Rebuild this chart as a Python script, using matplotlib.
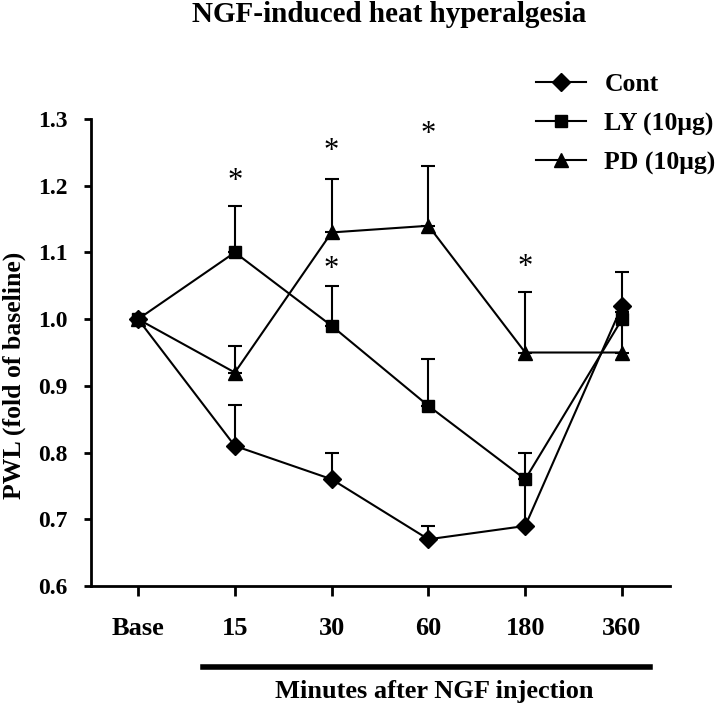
"""
NGF-induced heat hyperalgesia: PWL time course for three treatment groups.
Writes out.png
"""
import numpy as np
import matplotlib
matplotlib.use("Agg")
import matplotlib.pyplot as plt
import matplotlib.transforms as mtransforms
from matplotlib.lines import Line2D

plt.rcParams["font.family"] = ["Liberation Serif", "DejaVu Serif"]

# ── Data ──
time_labels = ["Base", "15", "30", "60", "180", "360"]

cont = [1.00, 0.81, 0.76, 0.67, 0.69, 1.02]
cont_err = [0.0, 0.062, 0.04, 0.02, 0.07, 0.05]

ly = [1.00, 1.10, 0.99, 0.87, 0.76, 1.00]
ly_err = [0.0, 0.07, 0.06, 0.07, 0.04, 0.01]

pd_ = [1.00, 0.92, 1.13, 1.14, 0.95, 0.95]
pd_err = [0.0, 0.04, 0.08, 0.09, 0.09, 0.06]

# significance marks: (time index, height)
star_idx = [1, 2, 2, 3, 4]
star_y = [1.206, 1.251, 1.075, 1.277, 1.078]

# ── Plot ──
fig = plt.figure(figsize=(7.2, 7.06), dpi=100)
ax = fig.add_axes([0.1264, 0.170, 0.8042, 0.6614])

x = np.arange(len(time_labels))
series = [
    (cont, cont_err, "D", "Cont", 9),
    (ly, ly_err, "s", "LY (10\u03bcg)", 9),
    (pd_, pd_err, "^", "PD (10\u03bcg)", 10),
]
handles = []
for vals, err, mk, lab, ms in series:
    vals = np.array(vals)
    err = np.array(err)
    ax.errorbar(x, vals, yerr=[np.zeros_like(err), err], fmt="none",
                ecolor="black", elinewidth=1.5, capsize=4.8, capthick=1.5, zorder=2)
    ax.plot(x, vals, marker=mk, color="black", markersize=ms,
            linewidth=1.5, zorder=3)
    handles.append(Line2D([], [], color="black", marker=mk, markersize=ms,
                          linewidth=1.5, label=lab))

for i, yv in zip(star_idx, star_y):
    ax.text(x[i], yv, "*", ha="center", va="center", fontsize=22)

ax.set_xlim(-0.486, 5.496)
ax.set_ylim(0.6, 1.3)
ax.set_xticks(x)
ax.set_xticklabels(time_labels)
ax.set_yticks(np.arange(0.6, 1.31, 0.1))
ax.set_yticklabels([f"{v:.1f}" for v in np.arange(0.6, 1.31, 0.1)])
for lbl in ax.get_xticklabels() + ax.get_yticklabels():
    lbl.set_fontweight("bold")
ax.tick_params(axis="x", labelsize=19, length=7, width=2, pad=15)
ax.tick_params(axis="y", labelsize=17, length=5, width=2, pad=12)

ax.spines["top"].set_visible(False)
ax.spines["right"].set_visible(False)
ax.spines["left"].set_linewidth(2)
ax.spines["bottom"].set_linewidth(2)

ax.set_ylabel("PWL (fold of baseline)", fontsize=18.5, fontweight="bold")
ax.yaxis.set_label_coords(-0.112, 0.45)

fig.text(389 / 720, 1 - 15 / 706, "NGF-induced heat hyperalgesia", ha="center",
         va="center", fontsize=21, fontweight="bold")

# bar under the post-injection time points
trans = mtransforms.blended_transform_factory(ax.transData, fig.transFigure)
ax.add_line(Line2D([0.67, 5.29], [0.0552, 0.0552], transform=trans,
                   color="black", linewidth=4, clip_on=False))
ax.text(3.06, 0.021, "Minutes after NGF injection", transform=trans,
        ha="center", va="center", fontsize=19, fontweight="bold")

fig.legend(handles=handles, loc="center left", bbox_to_anchor=(0.712, 1 - 124 / 706),
           frameon=False, prop={"size": 18.5, "weight": "bold"},
           handlelength=1.95, handletextpad=0.72, labelspacing=0.62)

fig.savefig("out.png", dpi=100)
